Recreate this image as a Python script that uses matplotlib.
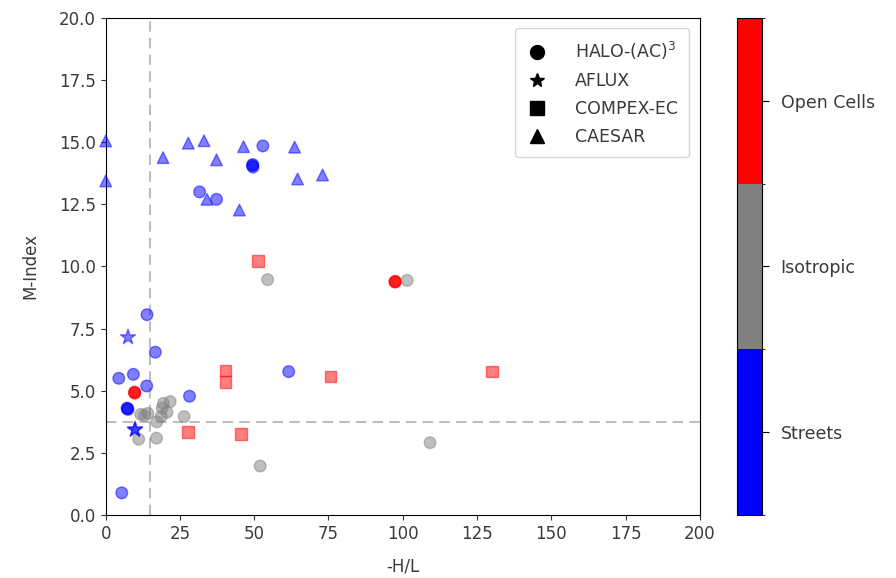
import matplotlib
matplotlib.use("Agg")
import matplotlib.pyplot as plt
import numpy as np
from matplotlib.colors import ListedColormap, BoundaryNorm
from matplotlib.cm import ScalarMappable
from matplotlib.lines import Line2D

# class codes: 0 = Streets, 1 = Isotropic, 2 = Open Cells
class_names = ["Streets", "Isotropic", "Open Cells"]
class_colors = ["#0000ff", "#808080", "#ff0000"]

# HALO-(AC)3 (circles)
halo_x = [5.4, 13.9, 16.7, 4.4, 9.3, 13.8, 28.2, 61.6, 7.2, 7.5, 7.3,
          52.9, 49.4, 49.6, 49.5, 31.6, 37.3,
          9.7, 9.7, 9.8, 97.4, 97.4, 97.5,
          54.5, 101.5, 109.2, 52.0,
          11.8, 14.2, 11.1, 17.1, 17.2, 18.7, 19.4, 21.7, 20.6, 19.0, 26.4, 13.0]
halo_y = [0.89, 8.06, 6.55, 5.5, 5.66, 5.19, 4.78, 5.77, 4.3, 4.25, 4.28,
          14.85, 14.06, 14.0, 14.1, 13.0, 12.7,
          4.92, 4.95, 4.9, 9.39, 9.37, 9.4,
          9.47, 9.44, 2.91, 1.97,
          4.05, 4.09, 3.05, 3.09, 3.75, 3.97, 4.49, 4.56, 4.13, 4.3, 3.96, 4.0]
halo_c = [0] * 17 + [2] * 6 + [1] * 16

# AFLUX (stars)
aflux_x = [7.5, 9.8, 9.9]
aflux_y = [7.15, 3.42, 3.45]
aflux_c = [0, 0, 0]

# COMPEX-EC (squares)
compex_x = [51.2, 40.3, 40.3, 75.7, 130.1, 27.6, 45.5]
compex_y = [10.23, 5.81, 5.36, 5.57, 5.77, 3.35, 3.25]
compex_c = [2, 2, 2, 2, 2, 2, 2]

# CAESAR (triangles)
caesar_x = [0.0, 0.0, 19.3, 27.8, 33.1, 37.3, 34.1, 45.0, 46.4, 63.6, 64.6, 73.0]
caesar_y = [15.05, 13.44, 14.38, 14.96, 15.06, 14.29, 12.7, 12.27, 14.82, 14.8, 13.52, 13.68]
caesar_c = [0] * 12

vline_x = 14.8
hline_y = 3.76

x_ticks = [0, 25, 50, 75, 100, 125, 150, 175, 200]
y_ticks = [0.0, 2.5, 5.0, 7.5, 10.0, 12.5, 15.0, 17.5, 20.0]

cmap = ListedColormap(class_colors)
norm = BoundaryNorm([-0.5, 0.5, 1.5, 2.5], cmap.N)

text_color = "#3a3a3a"

fig = plt.figure(figsize=(8.96, 5.78), dpi=100)
ax = fig.add_axes([0.118, 0.109, 0.663, 0.860])
cax = fig.add_axes([0.823, 0.109, 0.028, 0.860])

kw = dict(cmap=cmap, norm=norm, alpha=0.5, zorder=3)
ax.scatter(halo_x, halo_y, c=halo_c, marker="o", s=70, **kw)
ax.scatter(aflux_x, aflux_y, c=aflux_c, marker="*", s=130, **kw)
ax.scatter(compex_x, compex_y, c=compex_c, marker="s", s=70, **kw)
ax.scatter(caesar_x, caesar_y, c=caesar_c, marker="^", s=70, clip_on=False, **kw)

ax.axvline(vline_x, color="#bdbdbd", ls=(0, (5, 3)), lw=1.5, zorder=1)
ax.axhline(hline_y, color="#bdbdbd", ls=(0, (5, 3)), lw=1.5, zorder=1)

ax.set_xlim(0, 200)
ax.set_ylim(0, 20)
ax.set_xticks(x_ticks)
ax.set_yticks(y_ticks)
ax.set_xticklabels([str(v) for v in x_ticks])
ax.set_yticklabels([f"{v:.1f}" for v in y_ticks])
ax.tick_params(labelsize=12, colors="#333333", labelcolor=text_color)
ax.set_xlabel("-H/L", fontsize=12, color=text_color, labelpad=11)
ax.set_ylabel("M-Index", fontsize=12, color=text_color, labelpad=14)

handles = [
    Line2D([], [], ls="none", marker="o", color="black", markersize=10),
    Line2D([], [], ls="none", marker="*", color="black", markersize=10),
    Line2D([], [], ls="none", marker="s", color="black", markersize=10),
    Line2D([], [], ls="none", marker="^", color="black", markersize=10),
]
labels = ["HALO-(AC)$^3$", "AFLUX", "COMPEX-EC", "CAESAR"]
leg = ax.legend(handles, labels, loc="upper right", fontsize=12.5,
                borderpad=0.65, labelspacing=0.58, handletextpad=1.6,
                handlelength=1.2, bbox_to_anchor=(1.0, 1.0), borderaxespad=0.6)
for t in leg.get_texts():
    t.set_color(text_color)

sm = ScalarMappable(cmap=cmap, norm=norm)
cb = fig.colorbar(sm, cax=cax, ticks=[0, 1, 2])
cb.ax.set_yticklabels(class_names, fontsize=12.5, color=text_color)
cb.ax.tick_params(length=5, pad=8)

fig.savefig("out.png", dpi=100)
